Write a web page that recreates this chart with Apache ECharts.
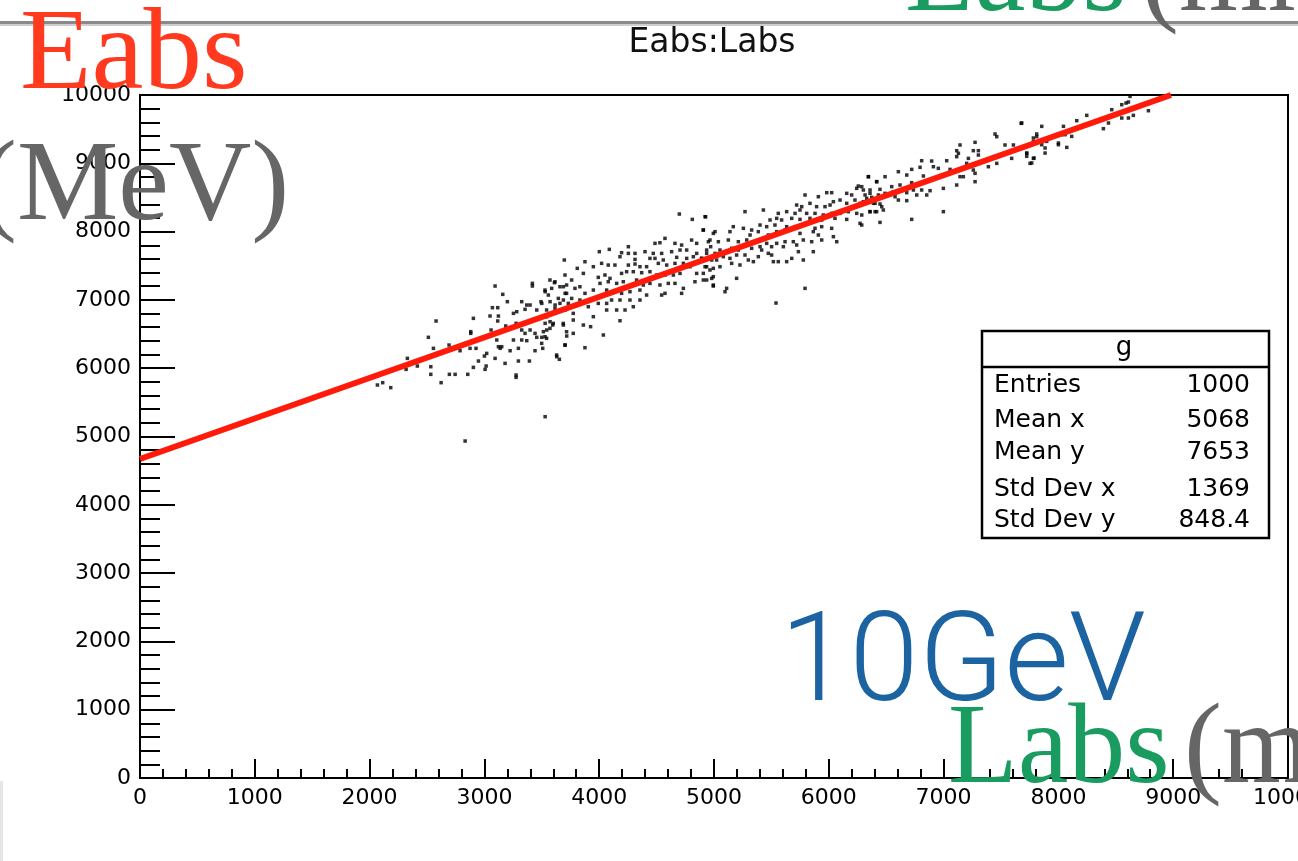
<!DOCTYPE html>
<html>
<head>
<meta charset="utf-8">
<script src="https://cdn.jsdelivr.net/npm/echarts@6/dist/echarts.min.js"></script>
<style>
html,body{margin:0;padding:0;background:#fff;}
#chart{width:1298px;height:861px;}
</style>
</head>
<body>
<div id="chart"></div>
<script>
// ---- data ----
const chartTitle = 'Eabs:Labs';
const xRange = [0, 10000];
const yRange = [0, 10000];
const tickStep = 1000;

// red reference line (Labs, Eabs)
const lineLabs = [0, 8980];
const lineEabs = [4670, 10000];

// scatter points [Labs, Eabs]
const scatterPoints = [
[3093,7203],[3418,7242],[3418,7203],[3610,7252],[3688,7193],[3529,7120],[3160,7081],[3200,6974],[3325,6974],[3369,6925],[3398,6925],[3500,6949],[3572,6974],[3616,6925],[3688,6998],[3703,7096],[3070,6886],[3116,6886],[3253,6803],[3282,6827],[3354,6862],[3456,6852],[3717,6876],[3049,6764],[3122,6764],[2904,6730],[2579,6691],[3116,6691],[3186,6618],[3276,6657],[3529,6657],[3572,6681],[3595,6632],[3688,6632],[2881,6510],[2881,6535],[3058,6559],[3325,6559],[3354,6510],[3398,6559],[3441,6510],[3514,6535],[3543,6559],[2512,6452],[3108,6413],[3253,6413],[3325,6413],[3369,6403],[3456,6452],[3500,6452],[3717,6471],[2692,6339],[3137,6291],[3122,6315],[3151,6315],[3296,6291],[3224,6256],[2788,6256],[2875,6291],[2927,6291],[3441,6256],[3508,6291],[3020,6217],[3000,6178],[2948,6105],[3093,6144],[3180,6071],[3296,6105],[3392,6105],[3630,6169],[3653,6130],[3703,6339],[2556,6291],[2329,6144],[2318,5983],[2416,6032],[2533,6022],[2533,5910],[2695,5910],[2745,5910],[2855,5910],[2904,6012],[3006,5983],[3015,6032],[3276,5900],[3276,5866],[2623,5788],[2184,5715],[2068,5754],[2114,5788],[3529,5290],[2832,4934],
[4698,8257],[4811,8179],[4927,8218],[4907,8023],[4994,7974],[4573,7901],[4486,7828],[4529,7837],[4660,7828],[4718,7803],[4805,7876],[4849,7828],[4951,7852],[4971,7779],[4254,7779],[4088,7740],[4001,7706],[4195,7691],[4254,7681],[4312,7681],[4399,7706],[4471,7681],[4544,7681],[4631,7706],[4704,7730],[4762,7730],[4849,7681],[4936,7681],[5009,7681],[3696,7584],[3876,7559],[4181,7632],[4312,7593],[4442,7608],[4486,7608],[4558,7584],[4675,7623],[4762,7608],[4820,7632],[4892,7608],[4980,7584],[3809,7462],[3949,7486],[4021,7535],[4079,7510],[4137,7510],[4254,7510],[4312,7525],[4355,7486],[4413,7486],[4515,7535],[4588,7510],[4660,7535],[4733,7535],[4791,7486],[4936,7486],[4994,7462],[3571,7291],[3615,7266],[3702,7364],[3760,7291],[3862,7388],[3992,7330],[4050,7364],[4094,7315],[4195,7388],[4239,7413],[4297,7413],[4370,7398],[4442,7413],[4500,7364],[4573,7364],[4646,7364],[4704,7388],[4849,7388],[4907,7291],[4980,7315],[3528,7144],[3586,7169],[3658,7193],[3716,7218],[3789,7169],[3832,7193],[4007,7242],[4079,7266],[4152,7242],[4210,7266],[4326,7291],[4384,7218],[4442,7242],[4529,7218],[4602,7242],[4660,7242],[4733,7169],[4834,7266],[4994,7218],[3557,7071],[3644,7022],[3716,7096],[3760,7022],[3876,7096],[3949,7144],[4065,7144],[4137,7120],[4195,7096],[4268,7120],[4355,7144],[4413,7071],[4544,7071],[4573,7096],[4718,7096],[3493,6974],[3658,6949],[3731,6949],[3832,6998],[3920,6998],[3992,6949],[4065,6949],[4108,6998],[4181,6998],[4268,6998],[4355,6998],[3542,6852],[3615,6876],[3702,6852],[3774,6803],[3905,6900],[3949,6754],[4065,6852],[4152,6852],[4225,6852],[4297,6900],[3542,6754],[3600,6656],[3687,6656],[3774,6705],[3862,6632],[3925,6608],[4181,6695],[3571,6583],[3716,6534],[3774,6510],[4036,6486],[3528,6461],[3499,6364],[3702,6339],[3876,6300],[3629,6193],[3542,6437],
[6345,8804],[6417,8731],[6243,8633],[6301,8609],[6257,8667],[6156,8560],[6199,8536],[6359,8560],[5982,8570],[6025,8570],[5793,8536],[5909,8511],[6040,8438],[6098,8462],[6156,8414],[6228,8462],[6272,8414],[6330,8487],[6388,8414],[6403,8292],[6359,8292],[5720,8389],[5764,8365],[5836,8414],[5894,8365],[5967,8365],[6011,8389],[5270,8292],[5430,8316],[5560,8267],[5633,8292],[5706,8267],[5749,8316],[5807,8267],[5880,8267],[5952,8243],[6025,8267],[6098,8267],[6170,8292],[6243,8267],[4922,8218],[5488,8170],[5546,8194],[5589,8170],[5677,8194],[5749,8179],[5836,8194],[5938,8170],[6054,8194],[6156,8179],[6272,8121],[5168,8072],[5401,8096],[5256,8048],[5328,8023],[5459,8072],[5531,8096],[5633,8072],[5706,8072],[5778,8096],[5880,8048],[5938,8072],[6025,8048],[4907,8023],[5009,7999],[5139,7999],[5314,7950],[5386,7999],[5473,7950],[5546,7999],[5619,8023],[5749,7974],[5778,7877],[5865,7999],[5909,7950],[6040,7926],[6069,7852],[4965,7877],[5038,7852],[5125,7877],[5212,7852],[5285,7877],[5357,7852],[5401,7779],[5459,7828],[5546,7828],[5619,7852],[5691,7852],[5851,7852],[5938,7877],[4936,7730],[5052,7730],[5154,7755],[5212,7730],[5270,7657],[5328,7755],[5415,7730],[5473,7682],[5502,7779],[5604,7779],[5720,7804],[5735,7706],[5865,7706],[4893,7608],[4980,7633],[5023,7584],[5081,7633],[5139,7608],[5197,7657],[5299,7584],[5386,7633],[5502,7657],[5560,7560],[5677,7608],[5778,7584],[4922,7486],[4965,7438],[5052,7486],[5154,7535],[5226,7511],[5343,7560],[5517,7560],[5633,7560],[4907,7389],[4994,7340],[5197,7316],[4936,7291],[4994,7203],[5110,7169],[5096,7120],[5793,7169],[5540,6954],
[7675,9585],[7448,9429],[7463,9390],[7811,9390],[7782,9316],[7535,9268],[7608,9268],[7143,9268],[7274,9307],[7114,9185],[7129,9146],[7114,9097],[7259,9185],[7303,9185],[7303,9121],[7216,9072],[7724,9146],[7782,9072],[7753,8999],[6809,9038],[6896,9033],[7027,9038],[7463,8999],[7390,8950],[7593,9072],[6606,8877],[6722,8911],[6795,8941],[6911,8950],[6954,8926],[7056,8911],[7201,8999],[7259,8902],[7274,8853],[7143,8804],[7114,8682],[7274,8731],[7172,8804],[6998,8633],[6824,8814],[6867,8755],[6679,8828],[6490,8804],[6345,8804],[6417,8731],[6620,8682],[6722,8716],[6737,8609],[6809,8609],[6287,8658],[6359,8609],[6446,8619],[6548,8658],[6562,8584],[6316,8536],[6374,8501],[6432,8536],[6490,8560],[6577,8511],[6679,8570],[6766,8536],[6853,8536],[6606,8462],[6679,8453],[6301,8438],[6403,8414],[6461,8365],[6446,8404],[6359,8292],[6417,8292],[6475,8316],[6998,8292],[6287,8243],[6287,8096],[6446,8135],[6722,8179],[6882,8599],
[8624,9980],[8589,9882],[8552,9858],[8610,9897],[8784,9770],[8653,9702],[8610,9663],[8552,9663],[8465,9785],[8436,9590],[8392,9507],[8247,9702],[8160,9624],[8044,9541],[8029,9419],[8058,9419],[8116,9394],[8073,9233],[8000,9297],[8000,9272],[7884,9346],[7855,9541],[7811,9429],[7782,9370],[7855,9272],[7884,9224],[7884,9150],[7724,9150],[7724,9102],[7788,9077],[7768,9004],[7681,9590],[7898,9321]
];

// statistics box
const statsTitle = 'g';
const statsLabels = ['Entries', 'Mean x', 'Mean y', 'Std Dev x', 'Std Dev y'];
const statsValues = ['1000', '5068', '7653', '1369', '848.4'];

// slide annotations
const annEabs = 'Eabs';
const annMeV = '(MeV)';
const annGeV = '10GeV';
const annLabs = 'Labs';
const annMm = '(mm)';

// ---- chart ----
const chart = echarts.init(document.getElementById('chart'), null, {renderer: 'canvas'});

const tickFont = {fontFamily: 'DejaVu Sans', fontSize: 22, color: '#000'};
const axisBlack = {color: '#000', width: 2};

const rowMid = [385, 420, 452, 489, 520];
const statsGraphics = [
  {type: 'rect', z: 50, shape: {x: 982, y: 331, width: 287, height: 207},
   style: {fill: '#fff', stroke: '#000', lineWidth: 2.5}},
  {type: 'line', z: 51, shape: {x1: 982, y1: 367, x2: 1269, y2: 367},
   style: {stroke: '#000', lineWidth: 2.5}},
  {type: 'text', z: 52, style: {text: statsTitle, x: 1124, y: 348, align: 'center', verticalAlign: 'middle',
   font: '26px "DejaVu Sans"', fill: '#000'}}
];
statsLabels.forEach((lab, i) => {
  statsGraphics.push({type: 'text', z: 52, style: {text: lab, x: 994, y: rowMid[i], align: 'left', verticalAlign: 'middle',
    font: '25px "DejaVu Sans"', fill: '#000'}});
  statsGraphics.push({type: 'text', z: 52, style: {text: statsValues[i], x: 1250, y: rowMid[i], align: 'right', verticalAlign: 'middle',
    font: '25px "DejaVu Sans"', fill: '#000'}});
});

const serif = '"Liberation Serif", "Times New Roman", serif';
const overlay = [
  {type: 'rect', z: 90, shape: {x: 0, y: 21, width: 1298, height: 3}, style: {fill: '#8a8a8a'}},
  {type: 'rect', z: 90, shape: {x: 0, y: 24, width: 1298, height: 2}, style: {fill: '#cfcfcf'}},
  {type: 'rect', z: 90, shape: {x: 0, y: 781, width: 3, height: 80}, style: {fill: '#e6e6e6'}},
  {type: 'text', z: 60, style: {text: chartTitle, x: 712, y: 43, align: 'center', verticalAlign: 'middle',
    font: '33px "DejaVu Sans"', fill: '#111'}},
  {type: 'text', z: 100, style: {text: annEabs, x: 20, y: 57, align: 'left', verticalAlign: 'middle',
    font: '117px ' + serif, fill: '#ff3a1e'}},
  {type: 'text', z: 100, style: {text: annMeV, x: -21, y: 189, align: 'left', verticalAlign: 'middle',
    font: '114px ' + serif, fill: '#666666'}},
  {type: 'text', z: 100, style: {text: annGeV, x: 780, y: 669, align: 'left', verticalAlign: 'middle',
    font: '300 125px Roboto, "Noto Sans", sans-serif', fill: '#1c63a1'}},
  {type: 'text', z: 100, style: {text: annLabs, x: 948, y: 752, align: 'left', verticalAlign: 'middle',
    font: '114px ' + serif, fill: '#1a9b60'}},
  {type: 'text', z: 100, style: {text: annMm, x: 1184, y: 752, align: 'left', verticalAlign: 'middle',
    font: '114px ' + serif, fill: '#666666'}},
  {type: 'text', z: 100, style: {text: annLabs, x: 905, y: -20, align: 'left', verticalAlign: 'middle',
    font: '114px ' + serif, fill: '#1a9b60'}},
  {type: 'text', z: 100, style: {text: annMm, x: 1141, y: -20, align: 'left', verticalAlign: 'middle',
    font: '114px ' + serif, fill: '#666666'}}
];

const option = {
  backgroundColor: '#ffffff',
  animation: false,
  grid: {
    left: 140, top: 95, right: 10, bottom: 83,
    containLabel: false, outerBoundsMode: 'none',
    show: true, borderColor: '#000', borderWidth: 2, backgroundColor: 'transparent'
  },
  xAxis: {
    type: 'value', min: xRange[0], max: xRange[1], interval: tickStep,
    axisLine: {show: true, onZero: false, lineStyle: axisBlack},
    axisTick: {show: true, inside: true, length: 19, lineStyle: axisBlack},
    minorTick: {show: true, splitNumber: 5, length: 9, lineStyle: axisBlack},
    splitLine: {show: false}, minorSplitLine: {show: false},
    axisLabel: Object.assign({margin: 9, formatter: v => String(v)}, tickFont)
  },
  yAxis: {
    type: 'value', min: yRange[0], max: yRange[1], interval: tickStep,
    axisLine: {show: true, onZero: false, lineStyle: axisBlack},
    axisTick: {show: true, inside: true, length: 35, lineStyle: axisBlack},
    minorTick: {show: true, splitNumber: 5, length: 20, lineStyle: axisBlack},
    splitLine: {show: false}, minorSplitLine: {show: false},
    axisLabel: Object.assign({margin: 9, formatter: v => String(v)}, tickFont)
  },
  series: [
    {
      name: 'g', type: 'scatter', data: scatterPoints, symbol: 'rect', symbolSize: 3.5,
      itemStyle: {color: '#000'}, silent: true, z: 2, large: false
    },
    {
      name: 'fit', type: 'line', data: lineLabs.map((x, i) => [x, lineEabs[i]]),
      showSymbol: false, symbol: 'none', lineStyle: {color: '#ff1a0a', width: 6}, silent: true, z: 3
    }
  ],
  graphic: statsGraphics.concat(overlay)
};
chart.setOption(option);
</script>
</body>
</html>
